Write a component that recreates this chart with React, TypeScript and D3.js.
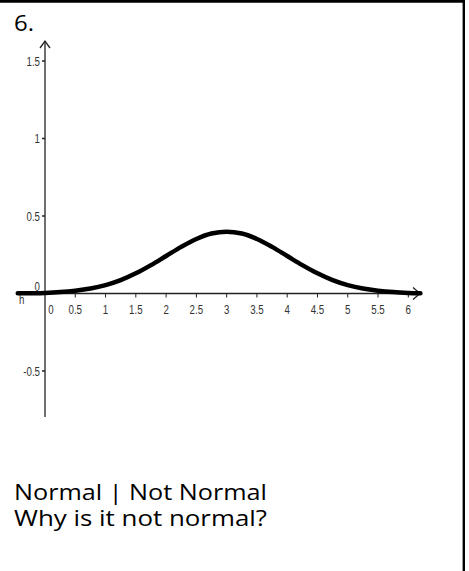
import React from 'react';
import * as d3 from 'd3';

// tick values
const xTicks = [0.5, 1, 1.5, 2, 2.5, 3, 3.5, 4, 4.5, 5, 5.5, 6];
const yTicks = [1.5, 1, 0.5, -0.5];

// curve h(x), read at 0.25 steps
const curveX = [
    -0.45, -0.25, 0, 0.25, 0.5, 0.75, 1, 1.25, 1.5, 1.75, 2, 2.25, 2.5, 2.75, 3,
    3.25, 3.5, 3.75, 4, 4.25, 4.5, 4.75, 5, 5.25, 5.5, 5.75, 6, 6.2,
];
const curveY = [
    0.001, 0.002, 0.004, 0.009, 0.018, 0.032, 0.054, 0.086, 0.130, 0.183, 0.242, 0.301, 0.352, 0.387, 0.399,
    0.387, 0.352, 0.301, 0.242, 0.183, 0.130, 0.086, 0.054, 0.032, 0.018, 0.009, 0.004, 0.002,
];

const textLines = ['Normal | Not Normal', 'Why is it not normal?'];

const W = 469;
const H = 571;

const App: React.FC = () => {
    const x = d3.scaleLinear().domain([0, 6]).range([45, 408.3]);
    const y = d3.scaleLinear().domain([0, 1.5]).range([293.5, 61]);

    const pts: [number, number][] = curveX.map((v, i) => [v, curveY[i]]);
    const line = d3.line<[number, number]>()
        .x(d => x(d[0]))
        .y(d => y(d[1]))
        .curve(d3.curveCatmullRom.alpha(0.5));

    const axisColor = '#222';
    const labelFont = '"Liberation Sans", Arial, sans-serif';
    const x0 = x(0);
    const y0 = y(0);

    return (
        <div style={{ position: 'absolute', left: 0, top: 0 }}>
            <svg width={W} height={H} style={{ display: 'block', background: '#fff' }}>
                {/* page border */}
                <line x1={0} y1={1.3} x2={465} y2={1.3} stroke="#000" strokeWidth={2.7} />
                <line x1={463.8} y1={0} x2={463.8} y2={H} stroke="#000" strokeWidth={2.4} />

                <text x={14} y={30.5} fontFamily='"Open Sans", sans-serif' fontSize={21} fill="#000"
                    textLength={20} lengthAdjust="spacingAndGlyphs">6.</text>

                {/* x axis */}
                <line x1={17} y1={y0} x2={419} y2={y0} stroke={axisColor} strokeWidth={1.3} />
                <path d={`M${413},${y0 - 6} L${420},${y0} L${413},${y0 + 6}`} fill="none" stroke={axisColor} strokeWidth={1.3} />
                {/* y axis */}
                <line x1={x0} y1={417} x2={x0} y2={42} stroke={axisColor} strokeWidth={1.3} />
                <path d={`M${x0 - 5},${48} L${x0},${41} L${x0 + 5},${48}`} fill="none" stroke={axisColor} strokeWidth={1.3} />

                {xTicks.map(t => (
                    <g key={'x' + t}>
                        <line x1={x(t)} y1={y0} x2={x(t)} y2={y0 + 4} stroke={axisColor} strokeWidth={1} />
                        <text transform={`translate(${x(t)},${y0 + 20}) scale(0.72,1)`} textAnchor="middle"
                            fontFamily={labelFont} fontSize={13.5} fill="#333">{String(t)}</text>
                    </g>
                ))}
                <text transform={`translate(${x0 + 6},${y0 + 20}) scale(0.72,1)`} textAnchor="middle"
                    fontFamily={labelFont} fontSize={13.5} fill="#333">0</text>

                {yTicks.map(t => (
                    <g key={'y' + t}>
                        <line x1={x0 - 3} y1={y(t)} x2={x0} y2={y(t)} stroke={axisColor} strokeWidth={1.5} />
                        <text transform={`translate(${x0 - 5},${y(t) + 4.5}) scale(0.72,1)`} textAnchor="end"
                            fontFamily={labelFont} fontSize={13.5} fill="#333">{String(t)}</text>
                    </g>
                ))}
                <text transform={`translate(${x0 - 5},${y0 - 3}) scale(0.72,1)`} textAnchor="end"
                    fontFamily={labelFont} fontSize={13.5} fill="#333">0</text>
                <text transform={`translate(${19},${y0 + 10}) scale(0.72,1)`}
                    fontFamily={labelFont} fontSize={13.5} fill="#333">h</text>

                {/* the curve */}
                <path d={line(pts) || ''} fill="none" stroke="#000" strokeWidth={4.5} strokeLinecap="round" />

                {textLines.map((s, i) => (
                    <text key={s} x={14} y={500 + i * 26} fontFamily='"Open Sans", sans-serif'
                        fontSize={21} fill="#000" textLength={253} lengthAdjust="spacingAndGlyphs">{s}</text>
                ))}
            </svg>
        </div>
    );
};

export default App;
